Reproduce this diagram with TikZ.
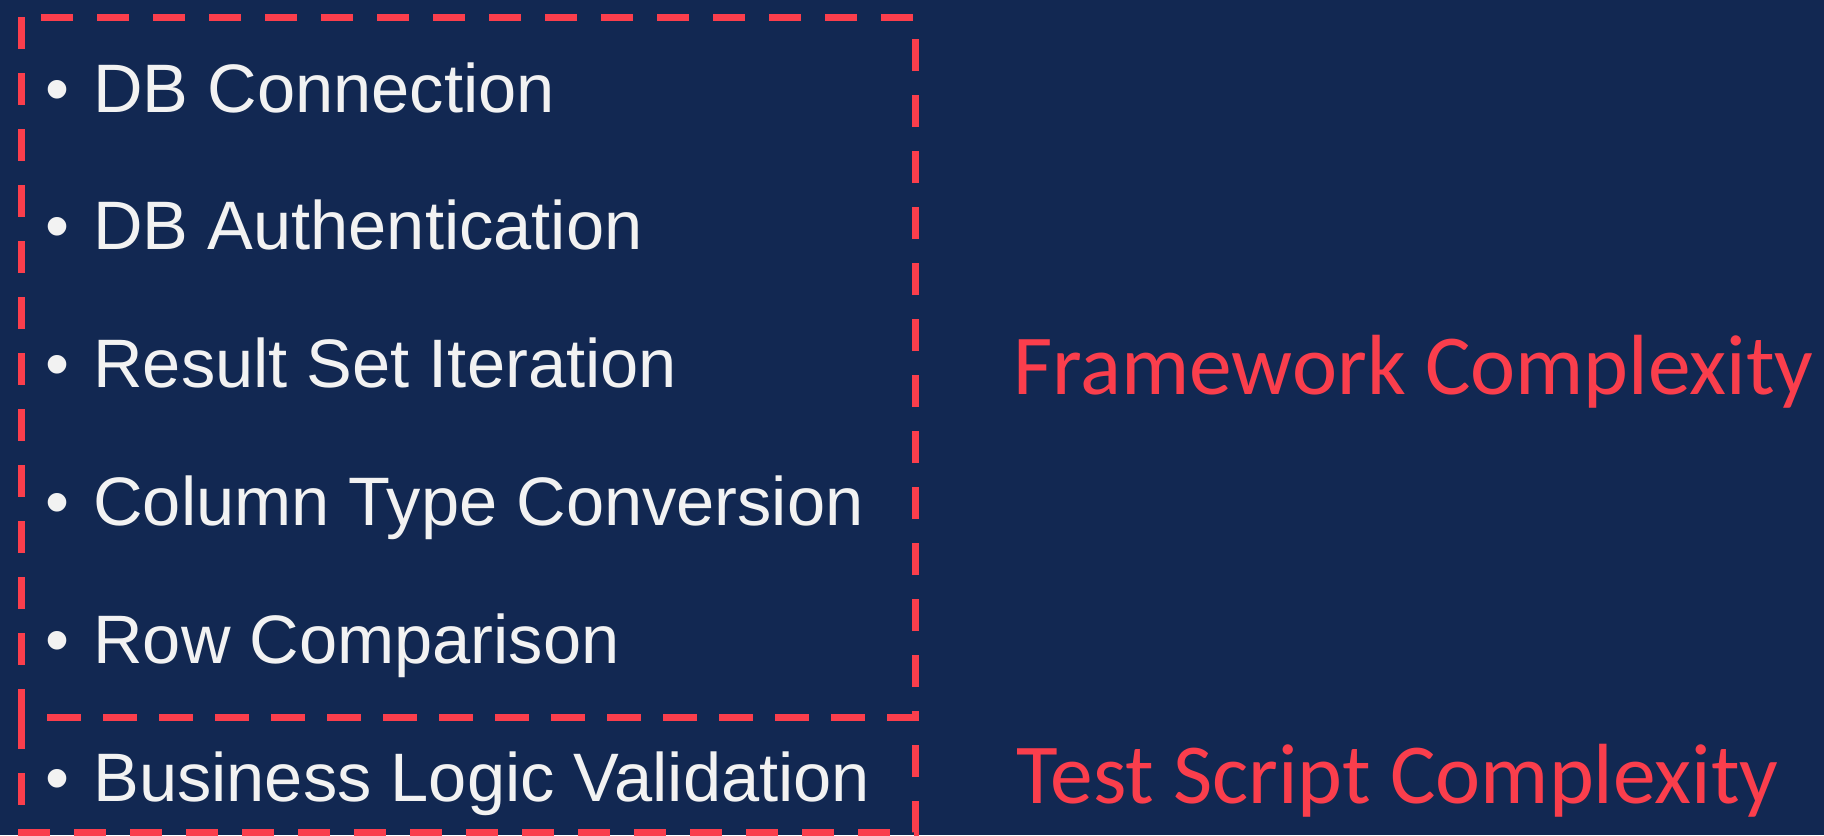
\documentclass[tikz,border=0pt]{standalone}
\usepackage{fontspec}
\setmainfont{Liberation Sans}
\newfontfamily\calibri{Carlito}
\definecolor{navybg}{RGB}{18,40,82}
\definecolor{alertred}{RGB}{250,62,76}
\definecolor{itemwhite}{RGB}{242,242,242}
\usetikzlibrary{positioning}

\begin{document}
\begin{tikzpicture}[x=0.5pt, y=-0.5pt,
    item/.style={anchor=base west, inner sep=0pt, text=itemwhite,
                 font=\fontsize{34.3}{40}\selectfont},
    tag/.style={anchor=base west, inner sep=0pt, text=alertred,
                font=\calibri\fontsize{42.7}{50}\selectfont},
    dashbox/.style={draw=alertred, line width=3.5pt,
                    dash pattern=on 16pt off 12pt}
  ]
    % Background
    \fill[navybg] (0,0) rectangle (1824,835);
    \useasboundingbox (0,0) rectangle (1824,835);

    % Boxes
    \draw[dashbox] (21,17) rectangle (915,717);
    \draw[dashbox] (21,717) rectangle (915,832);

    % Framework items
    \node[item] (conn)  at (45,112)   {\textbullet\hspace{12pt}DB Connection};
    \node[item] (auth)  at (45,249.8) {\textbullet\hspace{12pt}DB Authentication};
    \node[item] (iter)  at (45,387.6) {\textbullet\hspace{12pt}Result Set Iteration};
    \node[item] (conv)  at (45,525.4) {\textbullet\hspace{12pt}Column Type Conversion};
    \node[item] (comp)  at (45,663.2) {\textbullet\hspace{12pt}Row Comparison};

    % Test script item
    \node[item] (logic) at (45,801)   {\textbullet\hspace{12pt}Business Logic Validation};

    % Labels
    \node[tag] (fwlabel) at (1013,394) {Framework Complexity};
    \node[tag] (tslabel) at (1016,803) {Test Script Complexity};
  \end{tikzpicture}
\end{document}
